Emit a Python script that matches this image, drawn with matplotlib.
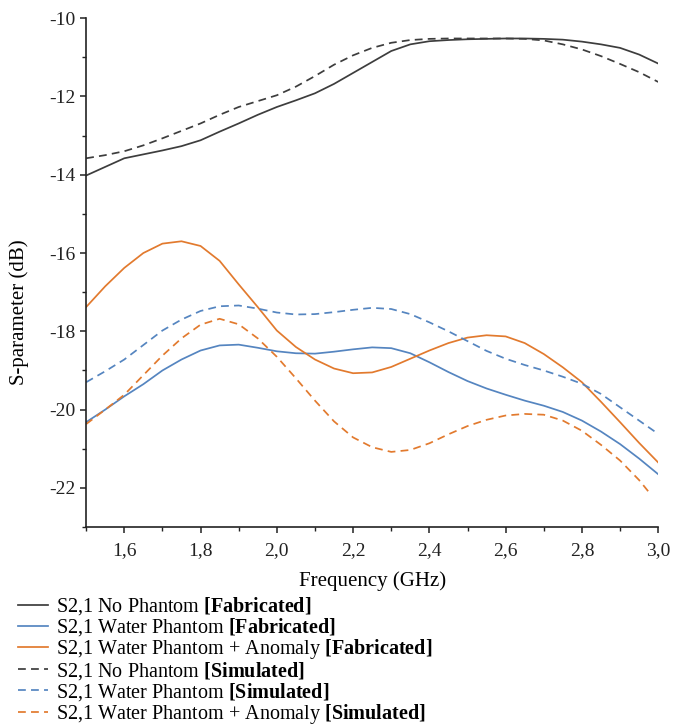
import numpy as np
import matplotlib
matplotlib.use("Agg")
import matplotlib.pyplot as plt
from matplotlib.ticker import MultipleLocator, FuncFormatter

plt.rcParams['font.family'] = ['Liberation Serif', 'DejaVu Serif']
plt.rcParams['mathtext.fontset'] = 'custom'
plt.rcParams['mathtext.rm'] = 'Liberation Serif'
plt.rcParams['mathtext.bf'] = 'Liberation Serif:bold'

# frequency grid (GHz)
freq = [1.50, 1.55, 1.60, 1.65, 1.70, 1.75, 1.80, 1.85, 1.90, 1.95, 2.00,
        2.05, 2.10, 2.15, 2.20, 2.25, 2.30, 2.35, 2.40, 2.45, 2.50,
        2.55, 2.60, 2.65, 2.70, 2.75, 2.80, 2.85, 2.90, 2.95, 3.00]
freq_anom_sim = freq[:-1] + [2.98]

no_phantom_fab = [-14.02, -13.80, -13.58, -13.48, -13.38, -13.27, -13.12, -12.90, -12.69, -12.47, -12.27,
                  -12.10, -11.92, -11.68, -11.40, -11.12, -10.84, -10.67, -10.59, -10.56, -10.54,
                  -10.53, -10.52, -10.52, -10.53, -10.55, -10.60, -10.67, -10.76, -10.93, -11.16]
water_fab = [-20.32, -20.00, -19.66, -19.35, -19.00, -18.72, -18.49, -18.36, -18.34, -18.42, -18.51,
             -18.56, -18.57, -18.52, -18.46, -18.41, -18.43, -18.56, -18.79, -19.04, -19.27,
             -19.46, -19.62, -19.77, -19.90, -20.06, -20.28, -20.56, -20.88, -21.25, -21.65]
anomaly_fab = [-17.38, -16.85, -16.38, -16.00, -15.76, -15.70, -15.82, -16.20, -16.80, -17.38, -17.98,
               -18.40, -18.72, -18.95, -19.07, -19.05, -18.91, -18.70, -18.49, -18.30, -18.16,
               -18.10, -18.13, -18.30, -18.58, -18.92, -19.30, -19.80, -20.32, -20.85, -21.35]
no_phantom_sim = [-13.58, -13.50, -13.40, -13.25, -13.07, -12.88, -12.69, -12.47, -12.27, -12.12, -11.97,
                  -11.75, -11.48, -11.19, -10.95, -10.76, -10.63, -10.56, -10.53, -10.52, -10.52,
                  -10.52, -10.52, -10.53, -10.57, -10.67, -10.80, -10.97, -11.17, -11.38, -11.63]
water_sim = [-19.30, -19.02, -18.72, -18.35, -17.98, -17.70, -17.48, -17.36, -17.34, -17.42, -17.52,
             -17.57, -17.56, -17.51, -17.45, -17.40, -17.43, -17.56, -17.77, -18.00, -18.25,
             -18.50, -18.70, -18.86, -19.00, -19.16, -19.34, -19.60, -19.94, -20.28, -20.62]
anomaly_sim = [-20.37, -20.00, -19.62, -19.12, -18.62, -18.18, -17.83, -17.68, -17.82, -18.18, -18.65,
               -19.20, -19.77, -20.30, -20.71, -20.96, -21.08, -21.03, -20.86, -20.63, -20.42,
               -20.26, -20.15, -20.11, -20.13, -20.28, -20.54, -20.90, -21.30, -21.80, -22.16]

labels = ["S2,1 No Phantom $\\mathbf{[Fabricated]}$",
          "S2,1 Water Phantom $\\mathbf{[Fabricated]}$",
          "S2,1 Water Phantom + Anomaly $\\mathbf{[Fabricated]}$",
          "S2,1 No Phantom $\\mathbf{[Simulated]}$",
          "S2,1 Water Phantom $\\mathbf{[Simulated]}$",
          "S2,1 Water Phantom + Anomaly $\\mathbf{[Simulated]}$"]

dark = '#3d3d3d'
blue = '#5585c0'
orange = '#e27a2e'
dash = (0, (4.5, 3))

fig = plt.figure(figsize=(6.73, 7.25), dpi=100)
ax = fig.add_axes([0.128, 0.273, 0.850, 0.702])

lw = 1.25
ax.plot(freq, no_phantom_fab, color=dark, lw=lw, label=labels[0])
ax.plot(freq, water_fab, color=blue, lw=lw, label=labels[1])
ax.plot(freq, anomaly_fab, color=orange, lw=lw, label=labels[2])
ax.plot(freq, no_phantom_sim, color=dark, lw=lw, ls=dash, label=labels[3])
ax.plot(freq, water_sim, color=blue, lw=lw, ls=dash, label=labels[4])
ax.plot(freq_anom_sim, anomaly_sim, color=orange, lw=lw, ls=dash, label=labels[5])

ax.set_xlim(1.5, 3.0)
ax.set_ylim(-23, -10)
ax.xaxis.set_major_locator(MultipleLocator(0.2))
ax.xaxis.set_minor_locator(MultipleLocator(0.1))
ax.yaxis.set_major_locator(MultipleLocator(2))
ax.yaxis.set_minor_locator(MultipleLocator(1))
ax.xaxis.set_major_formatter(FuncFormatter(lambda v, p: ("%.1f" % v).replace('.', ',')))
ax.yaxis.set_major_formatter(FuncFormatter(lambda v, p: "%d" % round(v)))
ax.set_xticks([1.6, 1.8, 2.0, 2.2, 2.4, 2.6, 2.8, 3.0])

for s in ['top', 'right']:
    ax.spines[s].set_visible(False)
for s in ['left', 'bottom']:
    ax.spines[s].set_linewidth(1.2)
    ax.spines[s].set_color('#222222')
ax.tick_params(which='major', direction='out', length=4.5, width=1.1, labelsize=14, colors='#222222')
ax.tick_params(which='minor', direction='out', length=2.8, width=1.0, colors='#222222')
ax.tick_params(axis='x', pad=6)
ax.tick_params(axis='y', pad=3)

ax.set_xlabel("Frequency (GHz)", fontsize=15, labelpad=9)
ax.set_ylabel("S-parameter (dB)", fontsize=15)
ax.yaxis.set_label_coords(-0.1, 0.422)

handles, labs = ax.get_legend_handles_labels()
fig.legend(handles, labs, loc='upper left', bbox_to_anchor=(0.027, 0.179),
           frameon=False, fontsize=14.5, handlelength=1.5, handletextpad=0.4,
           labelspacing=-0.05, borderpad=0, borderaxespad=0)

plt.savefig('out.png', dpi=100)
